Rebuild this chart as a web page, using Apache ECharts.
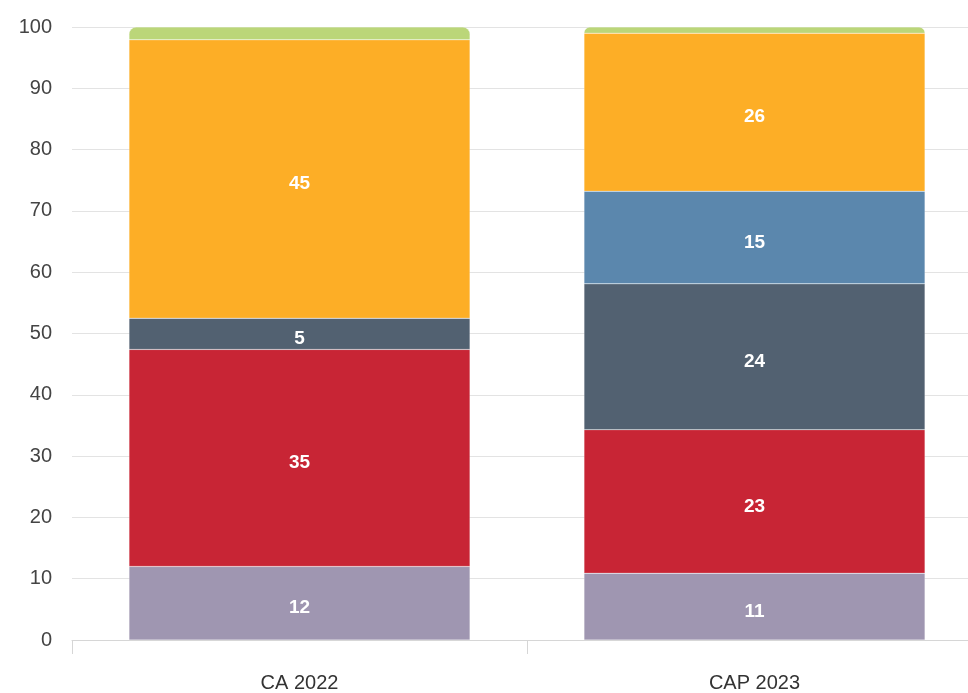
<!DOCTYPE html>
<html>
<head>
<meta charset="utf-8">
<script src="https://cdn.jsdelivr.net/npm/echarts@6/dist/echarts.min.js"></script>
<style>
  html, body { margin: 0; padding: 0; background: #fff; overflow: hidden; }
  #chart { width: 982px; height: 693px; }
</style>
</head>
<body>
<div id="chart"></div>
<script>
const categories = ['CA 2022', 'CAP 2023'];

// stacked shares, bottom to top
const purpleValues = [12.0, 10.9];
const redValues = [35.4, 23.4];
const slateValues = [5.1, 23.8];
const blueValues = [0, 15.1];
const orangeValues = [45.4, 25.8];
const greenValues = [2.1, 1.0];

const yTicks = [0, 10, 20, 30, 40, 50, 60, 70, 80, 90, 100];

const chart = echarts.init(document.getElementById('chart'));

function makeSeries(name, data, color, showLabel, radius) {
  return {
    name: name,
    type: 'bar',
    stack: 'total',
    data: data,
    barWidth: 341,
    itemStyle: {
      color: color,
      borderRadius: radius || 0,
      borderColor: 'rgba(255,255,255,0.35)',
      borderWidth: 0.5
    },
    label: {
      show: showLabel,
      color: '#fff',
      fontWeight: 'bold',
      fontSize: 19,
      fontFamily: 'Liberation Sans',
      offset: [0, 5],
      formatter: function (p) {
        return p.value >= 3 ? Math.round(p.value) : '';
      }
    }
  };
}

const option = {
  animation: false,
  grid: { left: 72, right: 0, top: 27, bottom: 53, containLabel: false },
  xAxis: {
    type: 'category',
    data: categories,
    axisLine: { lineStyle: { color: '#d6d6d6', width: 1 } },
    axisTick: { show: true, length: 14, lineStyle: { color: '#d6d6d6' } },
    axisLabel: {
      color: '#333',
      fontSize: 20,
      fontFamily: 'Liberation Sans',
      margin: 33
    }
  },
  yAxis: {
    type: 'value',
    min: yTicks[0],
    max: yTicks[yTicks.length - 1],
    interval: 10,
    axisLine: { show: false },
    axisTick: { show: false },
    splitLine: { lineStyle: { color: '#e3e3e3' } },
    axisLabel: {
      color: '#444',
      fontSize: 20,
      fontFamily: 'Liberation Sans',
      margin: 20
    }
  },
  series: [
    makeSeries('Purple', purpleValues, '#9f96b1', true),
    makeSeries('Red', redValues, '#c82535', true),
    makeSeries('Slate', slateValues, '#526171', true),
    makeSeries('Blue', blueValues, '#5b87ad', true),
    makeSeries('Orange', orangeValues, '#fdae26', true),
    makeSeries('Green', greenValues, '#bbd679', false, [7, 7, 0, 0])
  ]
};

chart.setOption(option);
</script>
</body>
</html>
